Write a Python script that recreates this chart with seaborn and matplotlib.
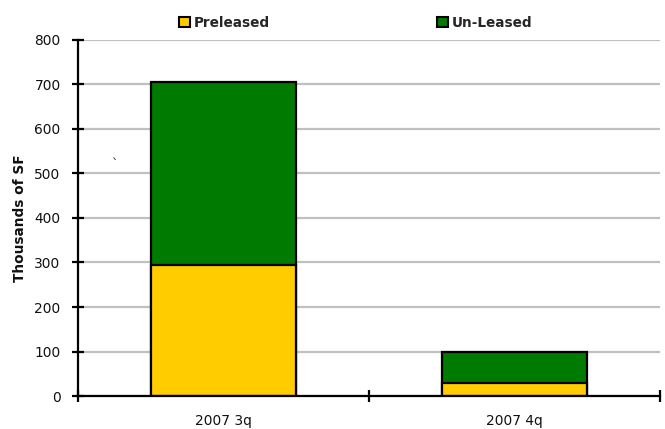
import matplotlib
matplotlib.use("Agg")
import matplotlib.pyplot as plt
import seaborn as sns
import pandas as pd
from matplotlib.patches import Patch

categories = ["2007 3q", "2007 4q"]
preleased = [294, 29]
unleased = [412, 70]
yticks = [0, 100, 200, 300, 400, 500, 600, 700, 800]

sns.set_theme(style="white")
plt.rcParams['font.family'] = ['DejaVu Sans']

totals = [p + u for p, u in zip(preleased, unleased)]
df = pd.DataFrame({"cat": categories, "pre": preleased, "total": totals})

fig = plt.figure(figsize=(6.65, 4.29), dpi=100)
ax = fig.add_axes([0.1173, 0.0769, 0.8752, 0.8299])

green = "#007A00"
yellow = "#FFCC00"
sns.barplot(data=df, x="cat", y="total", color=green, saturation=1, width=0.5,
            edgecolor="black", linewidth=1.6, ax=ax, zorder=3)
sns.barplot(data=df, x="cat", y="pre", color=yellow, saturation=1, width=0.5,
            edgecolor="black", linewidth=1.6, ax=ax, zorder=4)

ax.set_ylim(0, 800)
ax.set_xlim(-0.5, 1.5)
ax.set_yticks(yticks)
ax.set_yticklabels([str(v) for v in yticks], fontsize=9.9, color="#111111")
ax.yaxis.grid(True, color="#c0c0c0", linewidth=1.6, zorder=0)
ax.xaxis.grid(False)
ax.set_axisbelow(True)

ax.set_xticks([-0.5, 0.5, 1.5])
ax.set_xticklabels([])
ax.set_xticks([0, 1], minor=True)
ax.set_xticklabels(categories, minor=True, fontsize=9.9, color="#111111")
ax.tick_params(axis="x", which="major", direction="inout", length=9, width=1.6,
               color="black", bottom=True)
ax.tick_params(axis="x", which="minor", length=0, pad=13, bottom=True)
ax.tick_params(axis="y", which="major", direction="inout", length=9, width=1.6,
               color="black", left=True, pad=8)

for s in ["top", "right"]:
    ax.spines[s].set_visible(False)
for s in ["left", "bottom"]:
    ax.spines[s].set_color("black")
    ax.spines[s].set_linewidth(1.6)
ax.spines["bottom"].set_zorder(5)

ax.set_xlabel("")
ax.set_ylabel("Thousands of SF", fontsize=9.8, fontweight="bold", labelpad=5, color="#111111")

ax.text(0.064, 0.65, "`", transform=ax.transAxes, fontsize=9, color="#222222",
        ha="center", va="center")

handles = [Patch(facecolor=yellow, edgecolor="black", linewidth=1.5, label="Preleased"),
           Patch(facecolor=green, edgecolor="black", linewidth=1.5, label="Un-Leased")]
fig.legend(handles=handles, loc="center", bbox_to_anchor=(0.535, 0.947), ncol=2,
           frameon=False, prop={"weight": "bold", "size": 9.8},
           handlelength=0.8, handleheight=0.8, handletextpad=0.3, columnspacing=12.3)

fig.savefig("out.png", dpi=100)
